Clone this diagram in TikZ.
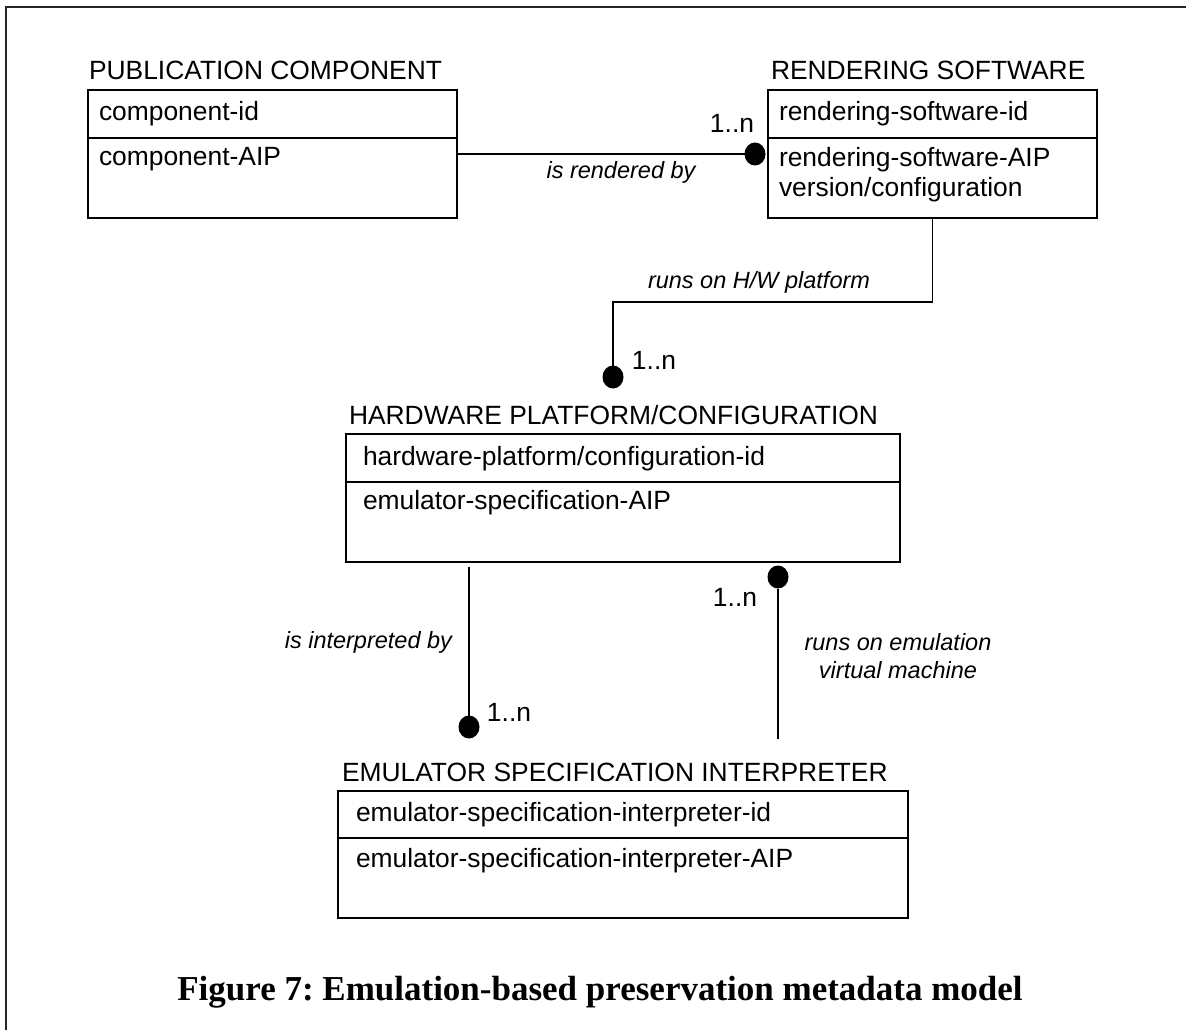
\documentclass[tikz,border=0pt]{standalone}
\usepackage{fontspec}
\setmainfont{Liberation Sans}
\newfontfamily\captionserif{Liberation Serif}
\usetikzlibrary{shapes.geometric}
\frenchspacing
\begin{document}
\begin{tikzpicture}[x=1pt,y=-1pt,
  every node/.style={inner sep=0pt,outer sep=0pt},
  body/.style={font=\fontsize{26.4}{30}\selectfont},
  classbox/.style={draw,line width=1.4pt,rectangle,anchor=north west},
  classtitle/.style={body,anchor=base west},
  attr/.style={body,anchor=base west},
  role/.style={font=\fontsize{23.5}{28}\selectfont\itshape},
  mult/.style={body},
  conn/.style={line width=1.1pt},
  divider/.style={line width=2pt},
  enddot/.style={ellipse,fill,minimum width=21pt,minimum height=23pt},
]
\useasboundingbox (0,0) rectangle (1186,1030);

% page frame (left and top rules)
\draw[line width=2.2pt,black!85] (6,1030) -- (6,7) -- (1186,7);

% ---- class boxes ----
\node[classbox,minimum width=369pt,minimum height=128pt] (pub) at (88,90) {};
\node[classbox,minimum width=329pt,minimum height=128pt] (rs)  at (768,90) {};
\node[classbox,minimum width=554pt,minimum height=128pt] (hw)  at (346,434) {};
\node[classbox,minimum width=570pt,minimum height=127pt] (esi) at (338,791) {};

% compartment dividers
\draw[divider] ([yshift=-48pt]pub.north west) -- ([yshift=-48pt]pub.north east);
\draw[divider] ([yshift=-48pt]rs.north west)  -- ([yshift=-48pt]rs.north east);
\draw[divider] ([yshift=-48pt]hw.north west)  -- ([yshift=-48pt]hw.north east);
\draw[divider] ([yshift=-47pt]esi.north west) -- ([yshift=-47pt]esi.north east);

% class names
\node[classtitle] (pubname) at (89,80)  {PUBLICATION COMPONENT};
\node[classtitle] (rsname)  at (771,80) {RENDERING SOFTWARE};
\node[classtitle] (hwname)  at (349,424) {HARDWARE PLATFORM/CONFIGURATION};
\node[classtitle] (esiname) at (342,781) {EMULATOR SPECIFICATION INTERPRETER};

% attributes
\node[attr] (pubid)  at (99,121)  {component-id};
\node[attr] (pubaip) at (99,165)  {component-AIP};
\node[attr] (rsid)   at (779,121) {rendering-software-id};
\node[attr] (rsaip)  at (779,166) {rendering-software-AIP};
\node[attr] (rsver)  at (779,196) {version/configuration};
\node[attr] (hwid)   at (363,465) {hardware-platform/configuration-id};
\node[attr] (hwaip)  at (363,509) {emulator-specification-AIP};
\node[attr] (esiid)  at (356,821) {emulator-specification-interpreter-id};
\node[attr] (esiaip) at (356,867) {emulator-specification-interpreter-AIP};

% ---- association ends ----
\node[enddot] (d1) at (755,154) {};
\node[enddot] (d2) at (613,377) {};
\node[enddot] (d3) at (469,727) {};
\node[enddot] (d4) at (778,577) {};

% ---- associations ----
\draw[conn] (pub.east) -- (d1);
\draw[conn] (rs.south) |- ([yshift=75pt]d2.center) -- (d2);
\draw[conn,shorten <=5pt] (hw.south -| d3) -- (d3);
\draw[conn,shorten >=52pt] (d4) -- (esi.north -| d4);

% role names
\node[role] (r1) at (621,172) {is rendered by};
\node[role] (r2) at (759,282) {runs on H/W platform};
\node[role,anchor=east] (r3) at (452,642) {is interpreted by};
\node[role,align=center] (r4) at (898,656) {runs on emulation\\virtual machine};

% multiplicities
\node[mult] (m1) at (732,123) {1..n};
\node[mult] (m2) at (654,360) {1..n};
\node[mult] (m3) at (509,712) {1..n};
\node[mult] (m4) at (735,597) {1..n};

% caption
\node[font=\captionserif\bfseries\fontsize{35}{40}\selectfont,anchor=base] (caption)
  at (600,1000) {Figure 7: Emulation-based preservation metadata model};
\end{tikzpicture}
\end{document}
